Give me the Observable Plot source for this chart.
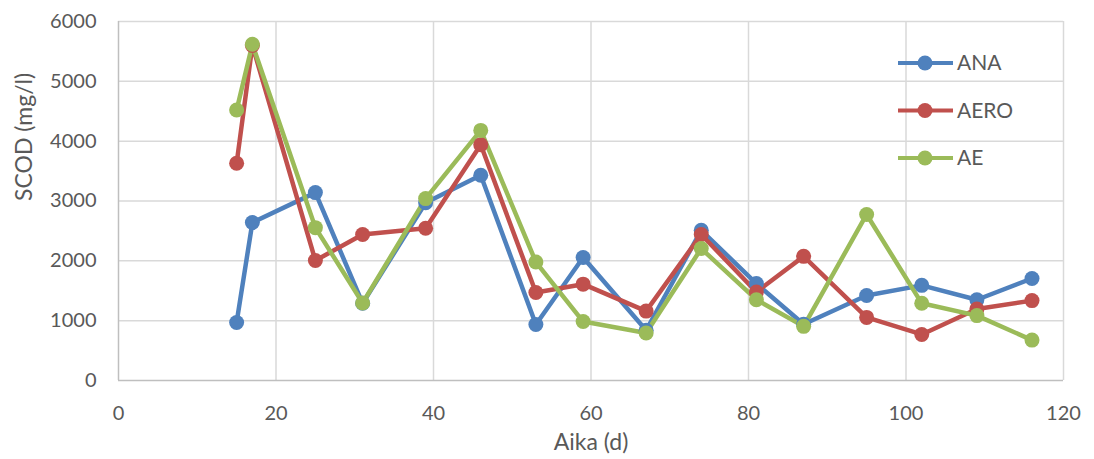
<!DOCTYPE html>
<html><head><meta charset="utf-8">
<script src="https://cdn.jsdelivr.net/npm/d3@7"></script>
<script src="https://cdn.jsdelivr.net/npm/@observablehq/plot@0.6"></script>
<style>
body{margin:0;background:#fff;}
#wrap{position:relative;width:1094px;height:459px;font-family:Lato,"Open Sans",sans-serif;}
#legend{position:absolute;left:895px;top:48px;}
</style></head>
<body><div id="wrap"><div id="legend"></div></div>
<script>
const days = [15,17,25,31,39,46,53,59,67,74,81,87,95,102,109,116];
const seriesNames = ["ANA","AERO","AE"];
const ANA  = [970,2640,3140,1290,2970,3430,935,2055,840,2510,1620,940,1420,1590,1350,1705];
const AERO = [3630,5600,2005,2440,2545,3940,1470,1610,1160,2440,1480,2075,1055,770,1195,1335];
const AE   = [4520,5620,2555,1295,3040,4180,1980,985,795,2205,1350,905,2775,1290,1085,675];
const colors = ["#4F81BD","#C0504D","#9BBB59"];
const xTicks = [0,20,40,60,80,100,120];
const yTicks = [0,1000,2000,3000,4000,5000,6000];
const xTitle = "Aika (d)";
const yTitle = "SCOD (mg/l)";

const vals = {ANA, AERO, AE};
const data = seriesNames.flatMap(s => days.map((d,i)=>({series:s, day:d, value:vals[s][i]})));

const chart = Plot.plot({
  width:1094, height:459,
  marginLeft:118, marginRight:31, marginTop:21, marginBottom:79,
  style:{fontFamily:"Lato, 'Open Sans', sans-serif", fontSize:"20px", color:"#595959", background:"#fff"},
  x:{domain:[0,120], ticks:xTicks},
  y:{domain:[0,6000], ticks:yTicks},
  color:{domain:seriesNames, range:colors},
  marks:[
    Plot.gridX(xTicks.filter(t=>t>0), {stroke:"#d9d9d9", strokeOpacity:1, strokeWidth:1.5}),
    Plot.gridY(yTicks.filter(t=>t>0), {stroke:"#d9d9d9", strokeOpacity:1, strokeWidth:1.5}),
    Plot.ruleX([0], {stroke:"#bfbfbf", strokeWidth:1.5}),
    Plot.ruleY([0], {stroke:"#bfbfbf", strokeWidth:1.5}),
    Plot.axisX({ticks:xTicks, tickSize:0, tickPadding:25, label:null, fill:"#595959", fontSize:20}),
    Plot.axisY({ticks:yTicks, tickSize:0, tickPadding:22, label:null, fill:"#595959", fontSize:20, tickFormat:d=>String(d)}),
    Plot.text([xTitle], {text:d=>d, frameAnchor:"bottom", dy:62, lineAnchor:"middle", fontSize:23, fill:"#595959"}),
    Plot.text([yTitle], {text:d=>d, frameAnchor:"left", dx:-94, rotate:-90, lineAnchor:"middle", fontSize:23, fill:"#595959"}),
    Plot.line(data, {x:"day", y:"value", z:"series", stroke:"series", strokeWidth:4.5, strokeLinejoin:"round", strokeLinecap:"round"}),
    Plot.dot(data, {x:"day", y:"value", fill:"series", r:7.5, stroke:"none"})
  ]
});
document.getElementById("wrap").prepend(chart);

// legend
const leg = d3.select("#legend").append("svg").attr("width",170).attr("height",140)
  .style("font-family","Lato, 'Open Sans', sans-serif").style("font-size","21px");
seriesNames.forEach((s,i)=>{
  const g = leg.append("g").attr("transform",`translate(0,${15+i*47.5})`);
  g.append("line").attr("x1",3).attr("x2",58).attr("stroke",colors[i]).attr("stroke-width",4);
  g.append("circle").attr("cx",30).attr("r",7.5).attr("fill",colors[i]);
  g.append("text").attr("x",62).attr("dy","0.35em").attr("fill","#595959").text(s);
});
</script></body></html>
